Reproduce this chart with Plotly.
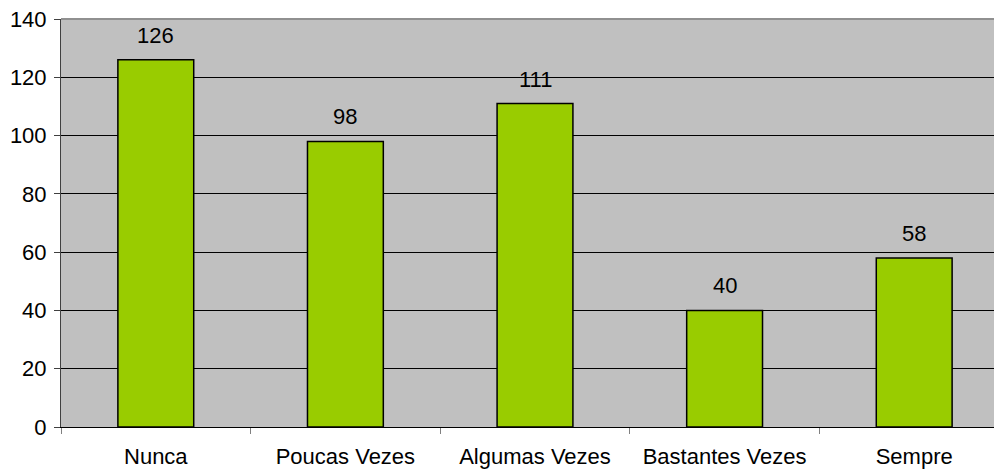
import plotly.graph_objects as go

categories = ["Nunca", "Poucas Vezes", "Algumas Vezes", "Bastantes Vezes", "Sempre"]
values = [126, 98, 111, 40, 58]
y_ticks = [0, 20, 40, 60, 80, 100, 120, 140]

FONT = "Liberation Sans, Arial, sans-serif"
FS = 22

fig = go.Figure()
fig.add_trace(go.Bar(
    x=categories, y=values, width=0.4,
    marker=dict(color="#99CC00", line=dict(color="#000000", width=1.5)),
    hoverinfo="skip",
))

for c, v in zip(categories, values):
    fig.add_annotation(x=c, y=v, text=str(v), showarrow=False,
                       yanchor="bottom", yshift=10,
                       font=dict(family=FONT, size=FS, color="#000000"))

fig.update_layout(
    width=1002, height=470,
    margin=dict(l=53, r=1, t=11, b=51),
    paper_bgcolor="#FFFFFF", plot_bgcolor="#C0C0C0",
    showlegend=False,
    font=dict(family=FONT, size=FS, color="#000000"),
    bargap=0.6,
)
fig.update_xaxes(
    range=[-0.5, 4.5], type="category", automargin=False,
    showgrid=False, showline=True, linecolor="#000000", linewidth=1,
    ticks="outside", tickson="boundaries", ticklen=6, tickcolor="#808080",
    ticklabelstandoff=10, ticklabeloverflow="allow",
    tickfont=dict(family=FONT, size=FS, color="#000000"),
    fixedrange=True,
)
fig.update_yaxes(
    range=[0, 140], tickvals=y_ticks, automargin=False,
    showgrid=True, gridcolor="#000000", gridwidth=1,
    showline=True, linecolor="#404040", linewidth=1,
    ticks="outside", ticklen=6, tickcolor="#404040",
    ticklabelstandoff=3, ticklabeloverflow="allow",
    tickfont=dict(family=FONT, size=FS, color="#000000"),
    zeroline=False, fixedrange=True,
)
fig.add_shape(type="line", xref="paper", yref="paper", x0=0, x1=1, y0=1, y1=1,
              line=dict(color="#909090", width=2), layer="above")

fig.write_html("out.html")
